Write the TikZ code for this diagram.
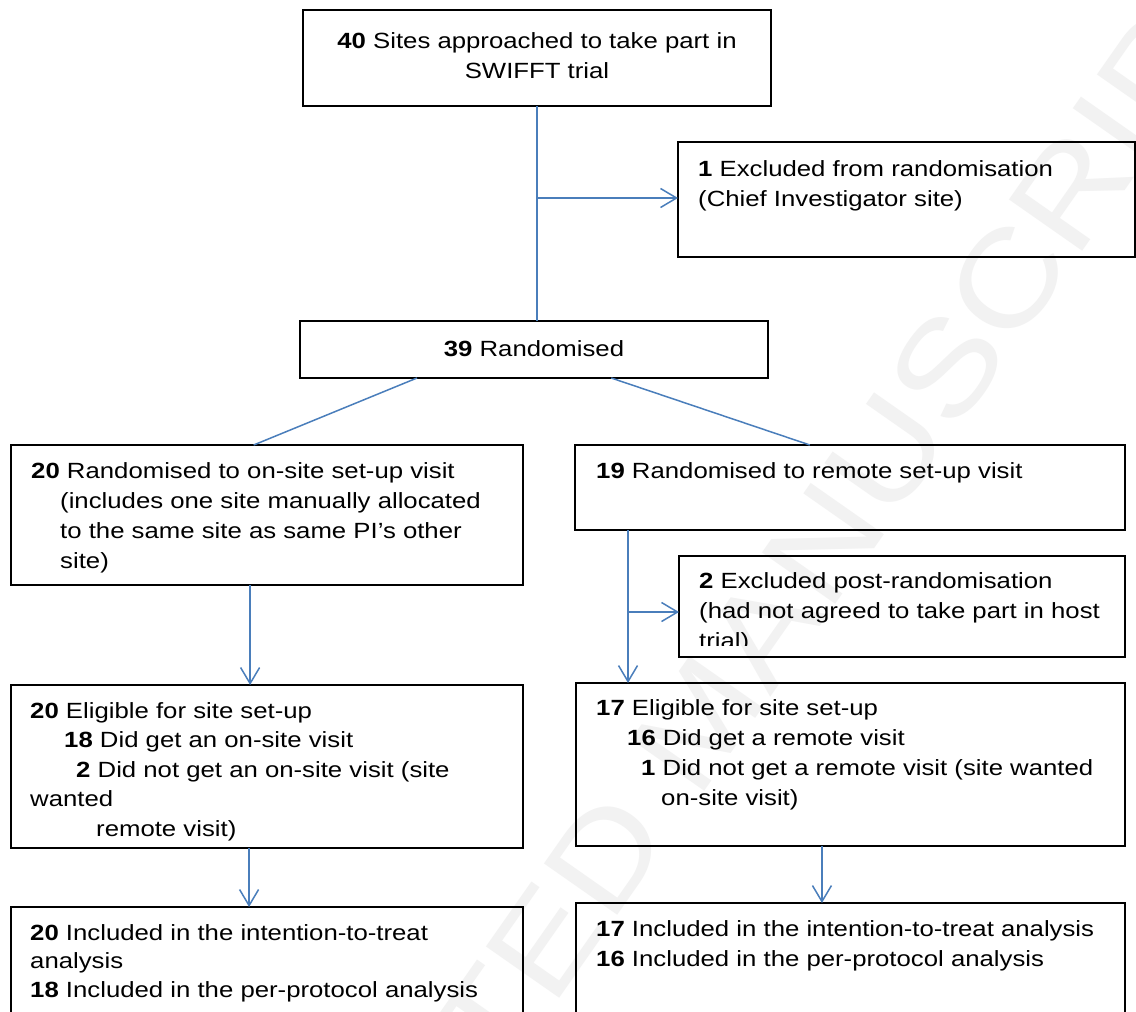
\documentclass[tikz,border=0pt]{standalone}
\usepackage{fontspec}
\setmainfont{Liberation Sans}[FakeStretch=1.17]
\usetikzlibrary{arrows.meta,calc}
\definecolor{arrblue}{RGB}{74,126,187}
\begin{document}
\begin{tikzpicture}[x=1pt,y=-1pt,
  box/.style={draw=black, line width=1.6pt, anchor=north west, inner sep=0pt, outer sep=0pt},
  txt/.style={anchor=north west, inner sep=0pt, align=left, font=\fontsize{22}{30}\selectfont},
  ctxt/.style={anchor=north, inner sep=0pt, align=center, font=\fontsize{22}{30}\selectfont},
  ln/.style={draw=arrblue, line width=1.5pt},
  arr/.style={draw=arrblue, line width=1.5pt, -{Straight Barb[length=16pt,width=19pt,line width=1.5pt]}}]
\useasboundingbox (0,0) rectangle (1136,1012);
\clip (0,0) rectangle (1136,1012);
\fill[white] (0,0) rectangle (1136,1012);
% watermark
\node[rotate=55, text=gray!10, inner sep=0pt, font=\fontsize{130}{130}\selectfont] (wm) at (700,720) {ACCEPTED MANUSCRIPT};
% boxes
\node[box, minimum width=468pt, minimum height=96pt] (b1) at (303,10) {};
\node[box, minimum width=457pt, minimum height=115pt] (b2) at (678,142) {};
\node[box, minimum width=468pt, minimum height=57pt] (b3) at (300,321) {};
\node[box, minimum width=512pt, minimum height=140pt] (b4) at (11,445) {};
\node[box, minimum width=550pt, minimum height=85pt] (b5) at (575,445) {};
\node[box, minimum width=446pt, minimum height=101pt] (b6) at (679,556) {};
\node[box, minimum width=512pt, minimum height=163pt] (b7) at (11,685) {};
\node[box, minimum width=549pt, minimum height=163pt] (b8) at (576,683) {};
\node[box, minimum width=512pt, minimum height=150pt] (b9) at (11,907) {};
\node[box, minimum width=549pt, minimum height=150pt] (b10) at (576,903) {};
% texts
\node[ctxt] (t1) at (537,27) {\strut\textbf{40} Sites approached to take part in\\SWIFFT trial};
\node[txt] (t2) at (698,155) {\strut\textbf{1} Excluded from randomisation\\(Chief Investigator site)};
\node[ctxt] (t3) at (534,335) {\strut\textbf{39} Randomised};
\node[txt] (t4) at (31,457) {\strut\textbf{20} Randomised to on-site set-up visit\\
  \hspace*{29pt}(includes one site manually allocated\\
  \hspace*{29pt}to the same site as same PI’s other\\
  \hspace*{29pt}site)};
\node[txt] (t5) at (596,457) {\strut\textbf{19} Randomised to remote set-up visit};
\begin{scope}
\clip (679,556) rectangle (1125,645);
\node[txt] (t6) at (699,567) {\strut\textbf{2} Excluded post-randomisation\\(had not agreed to take part in host\\trial)};
\end{scope}
\node[txt, font=\fontsize{22}{29.5}\selectfont] (t7) at (30,697.4) {\strut\textbf{20} Eligible for site set-up\\
  \hspace*{34pt}\textbf{18} Did get an on-site visit\\
  \hspace*{46pt}\textbf{2} Did not get an on-site visit (site\\
  wanted\\
  \hspace*{66pt}remote visit)};
\node[txt] (t8) at (596,694) {\strut\textbf{17} Eligible for site set-up\\
  \hspace*{31pt}\textbf{16} Did get a remote visit\\
  \hspace*{45pt}\textbf{1} Did not get a remote visit (site wanted\\
  \hspace*{65pt}on-site visit)};
\node[txt, font=\fontsize{22}{28.5}\selectfont] (t9) at (30,920) {\strut\textbf{20} Included in the intention-to-treat\\
  analysis\\
  \textbf{18} Included in the per-protocol analysis};
\node[txt] (t10) at (596,915) {\strut\textbf{17} Included in the intention-to-treat analysis\\
  \textbf{16} Included in the per-protocol analysis};
% connectors
\draw[ln] (b1.south) -- (b1.south |- b3.north);
\coordinate (br1) at ($(b1.south)+(0,92)$);
\draw[arr] (br1) -- (br1 -| b2.west);
\draw[ln] ($(b3.south west)!0.25!(b3.south east)$) -- ($(b4.north west)!0.474!(b4.north east)$);
\draw[ln] ($(b3.south west)!0.665!(b3.south east)$) -- ($(b5.north west)!0.427!(b5.north east)$);
\coordinate (s4) at ($(b4.south west)!0.467!(b4.south east)$);
\draw[arr] (s4) -- (s4 |- b7.north);
\coordinate (s5) at ($(b5.south west)!0.0964!(b5.south east)$);
\draw[arr] (s5) -- (s5 |- b8.north);
\coordinate (br2) at ($(s5)+(0,82)$);
\draw[arr] (br2) -- (br2 -| b6.west);
\coordinate (s7) at ($(b7.south west)!0.465!(b7.south east)$);
\draw[arr] (s7) -- (s7 |- b9.north);
\coordinate (s8) at ($(b8.south west)!0.448!(b8.south east)$);
\draw[arr] (s8) -- (s8 |- b10.north);
\end{tikzpicture}
\end{document}
